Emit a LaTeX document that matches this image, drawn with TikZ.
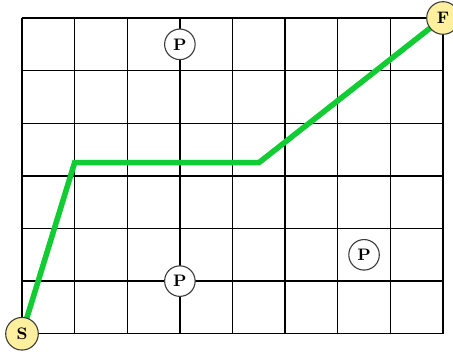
\documentclass[tikz,border=0pt]{standalone}
\usepackage{tikz}
\definecolor{pathgreen}{RGB}{17,204,51}
\definecolor{endfill}{RGB}{255,240,160}
\definecolor{ringgrey}{RGB}{60,60,60}
\pgfdeclarelayer{background}
\pgfsetlayers{background,main}
\begin{document}
\begin{tikzpicture}[x=1cm,y=1cm,
  gridline/.style={line width=0.8pt,black},
  route/.style={line width=3pt,pathgreen,line join=miter},
  endpt/.style={circle,draw=ringgrey,line width=0.6pt,fill=endfill,minimum size=0.62cm,inner sep=0pt,font=\fontsize{9}{10}\selectfont\bfseries},
  pt/.style={circle,draw=ringgrey,line width=0.6pt,fill=white,minimum size=0.58cm,inner sep=0pt,font=\fontsize{9}{10}\selectfont\bfseries}]
\useasboundingbox (-0.418,-0.361) rectangle (8.19,6.342);
\node[endpt] (S) at (0,0) {S};
\node[endpt] (F) at (8,6) {F};
\node[pt] (P1) at (3,5.5) {P};
\node[pt] (P2) at (3,1) {P};
\node[pt] (P3) at (6.5,1.5) {P};
\coordinate (c1) at (1,3.25);
\coordinate (c2) at (4.5,3.25);
\begin{pgfonlayer}{background}
\draw[gridline] (0,0) grid (8,6);
\draw[route] (S.center) -- (c1) -- (c2) -- (F.center);
\end{pgfonlayer}
\end{tikzpicture}
\end{document}
